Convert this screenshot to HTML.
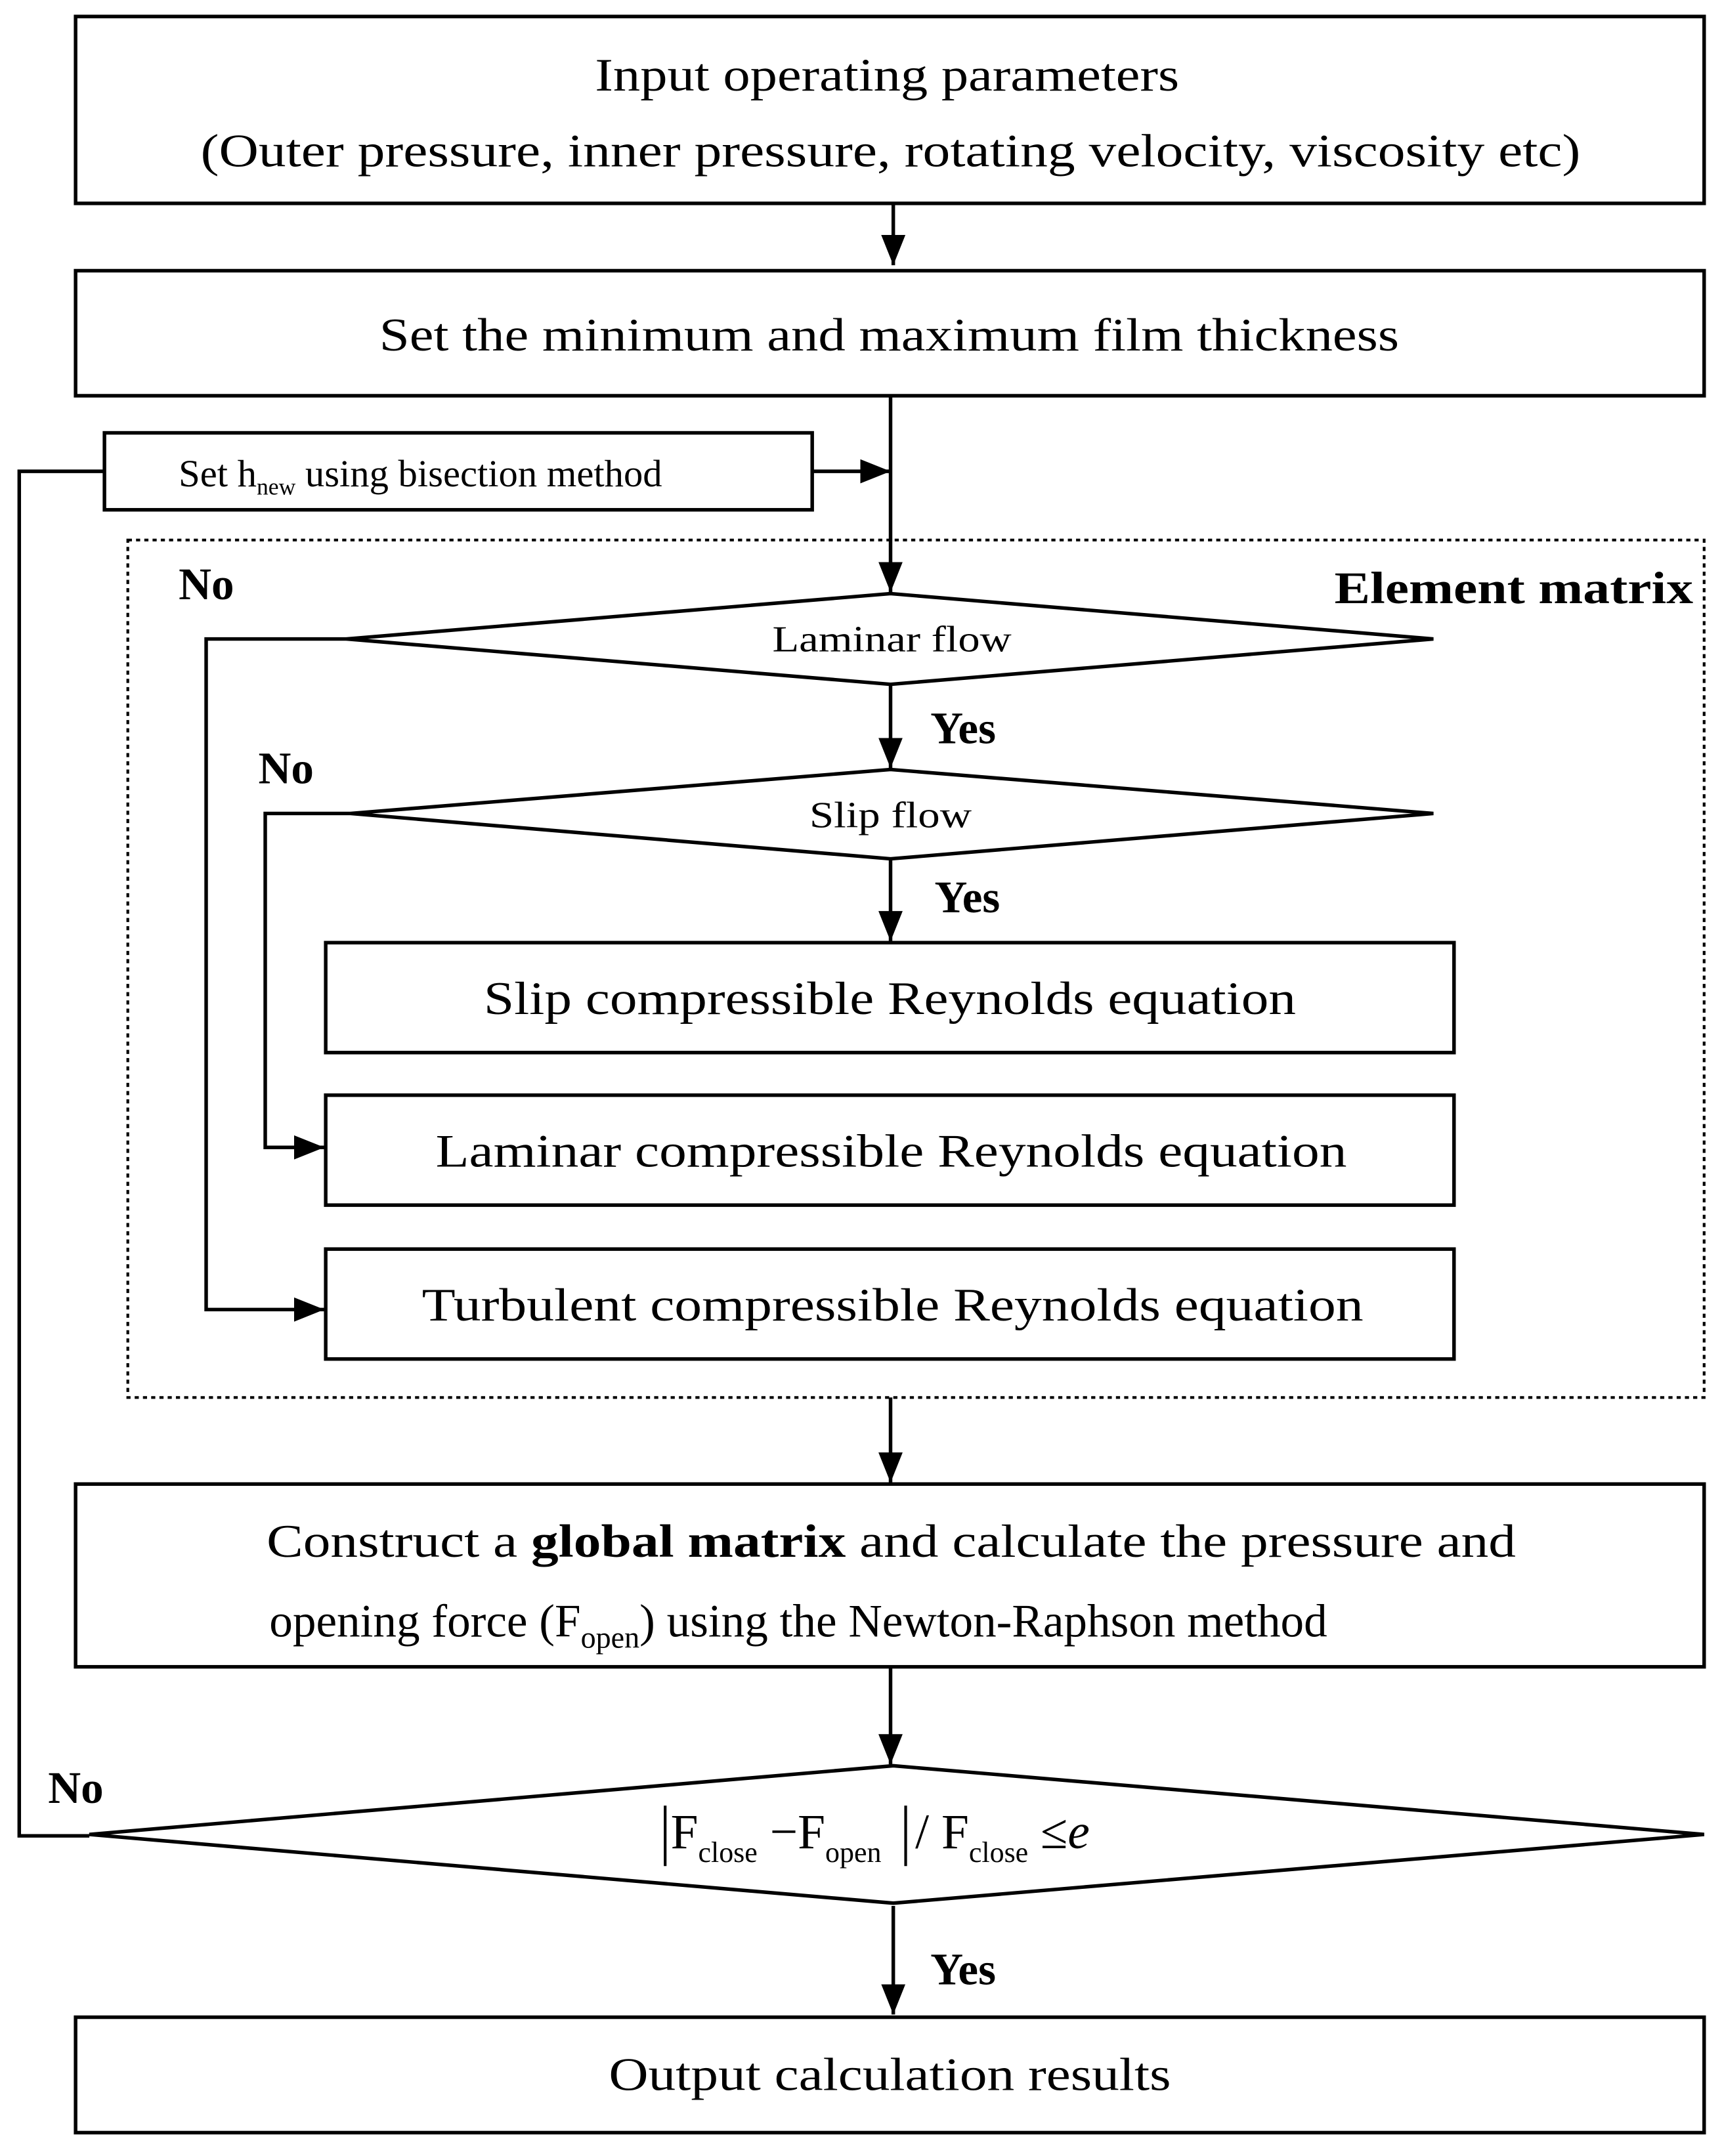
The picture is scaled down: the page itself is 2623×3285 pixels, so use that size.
<!DOCTYPE html>
<html><head><meta charset="utf-8"><style>
html,body{margin:0;padding:0;background:#fff;}
svg{display:block;}
text{font-family:"Liberation Serif",serif;fill:#000;}
</style></head><body>
<svg width="2623" height="3285" viewBox="0 0 1253 1569" preserveAspectRatio="none" xmlns="http://www.w3.org/2000/svg">
<defs>
<marker id="ar" markerWidth="10" markerHeight="10" refX="9" refY="5" orient="auto" markerUnits="userSpaceOnUse">
<path d="M0,0 L10,5 L0,10 Z" fill="#000"/>
</marker>
<marker id="a2" viewBox="0 0 10 10" markerWidth="22" markerHeight="22" refX="10" refY="5" orient="auto" markerUnits="userSpaceOnUse">
<path d="M0,1 L10,5 L0,9 Z" fill="#000"/>
</marker>
</defs>
<g fill="none" stroke="#000" stroke-width="2.6">
<rect x="55" y="12" width="1185" height="136"/>
<rect x="55" y="197" width="1185" height="91"/>
<rect x="76" y="315" width="515" height="56"/>
<rect x="93" y="393" width="1147" height="624" stroke-width="2" stroke-dasharray="3,3"/>
<polygon points="252,465 648,432 1043,465 648,498"/>
<polygon points="255,592 648,560 1043,592 648,625"/>
<rect x="237" y="686" width="821" height="80"/>
<rect x="237" y="797" width="821" height="80"/>
<rect x="237" y="909" width="821" height="80"/>
<rect x="55" y="1080" width="1185" height="133"/>
<polygon points="65,1335 650,1285 1240,1335 650,1385"/>
<rect x="55" y="1468" width="1185" height="84"/>
</g>
<g fill="none" stroke="#000" stroke-width="2.6">
<line x1="650" y1="148" x2="650" y2="193" marker-end="url(#a2)"/>
<line x1="648" y1="288" x2="648" y2="431" marker-end="url(#a2)"/>
<line x1="591" y1="343" x2="648" y2="343" marker-end="url(#a2)"/>
<polyline points="76,343 14,343 14,1336 65,1336"/>
<polyline points="252,465 150,465 150,953 236,953" marker-end="url(#a2)"/>
<polyline points="255,592 193,592 193,835 236,835" marker-end="url(#a2)"/>
<line x1="648" y1="498" x2="648" y2="559" marker-end="url(#a2)"/>
<line x1="648" y1="625" x2="648" y2="685" marker-end="url(#a2)"/>
<line x1="648" y1="1017" x2="648" y2="1079" marker-end="url(#a2)"/>
<line x1="648" y1="1213" x2="648" y2="1284" marker-end="url(#a2)"/>
<line x1="650" y1="1387" x2="650" y2="1466" marker-end="url(#a2)"/>
</g>
<g font-size="34">
<text x="433" y="66" textLength="425" lengthAdjust="spacingAndGlyphs">Input operating parameters</text>
<text x="146" y="121" textLength="1004" lengthAdjust="spacingAndGlyphs">(Outer pressure, inner pressure, rotating velocity, viscosity etc)</text>
<text x="276" y="255" textLength="742" lengthAdjust="spacingAndGlyphs">Set the minimum and maximum film thickness</text>
<text x="352" y="738" textLength="591" lengthAdjust="spacingAndGlyphs">Slip compressible Reynolds equation</text>
<text x="317" y="849" textLength="663" lengthAdjust="spacingAndGlyphs">Laminar compressible Reynolds equation</text>
<text x="307" y="961" textLength="685" lengthAdjust="spacingAndGlyphs">Turbulent compressible Reynolds equation</text>
<text x="194" y="1133" textLength="909" lengthAdjust="spacingAndGlyphs">Construct a <tspan font-weight="bold">global matrix</tspan> and calculate the pressure and</text>
<text x="196" y="1191">opening force (F<tspan font-size="22" dy="8">open</tspan><tspan dy="-8">) using the Newton-Raphson method</tspan></text>
<text x="443" y="1521" textLength="409" lengthAdjust="spacingAndGlyphs">Output calculation results</text>
</g>
<text x="130" y="354" font-size="28">Set h<tspan font-size="17" dy="6">new</tspan><tspan dy="-6"> using bisection method</tspan></text>
<text x="562" y="474" font-size="27" textLength="174" lengthAdjust="spacingAndGlyphs">Laminar flow</text>
<text x="589" y="602" font-size="27" textLength="118" lengthAdjust="spacingAndGlyphs">Slip flow</text>
<g font-weight="bold" font-size="33">
<text x="130" y="436">No</text>
<text x="188" y="570">No</text>
<text x="35" y="1312">No</text>
<text x="677" y="541">Yes</text>
<text x="680" y="664">Yes</text>
<text x="677" y="1444">Yes</text>
<text x="971" y="439" textLength="261" lengthAdjust="spacingAndGlyphs">Element matrix</text>
</g>
<g stroke="#000" stroke-width="2">
<line x1="484" y1="1314" x2="484" y2="1358"/>
<line x1="659" y1="1314" x2="659" y2="1358"/>
</g>
<text x="488" y="1345" font-size="36">F<tspan font-size="21" dy="10">close</tspan><tspan dy="-10"> −F</tspan><tspan font-size="21" dy="10">open</tspan></text>
<text x="666" y="1345" font-size="36">/ F<tspan font-size="21" dy="10">close</tspan><tspan dy="-10"> ≤</tspan><tspan font-style="italic">e</tspan></text>
</svg>
</body></html>
